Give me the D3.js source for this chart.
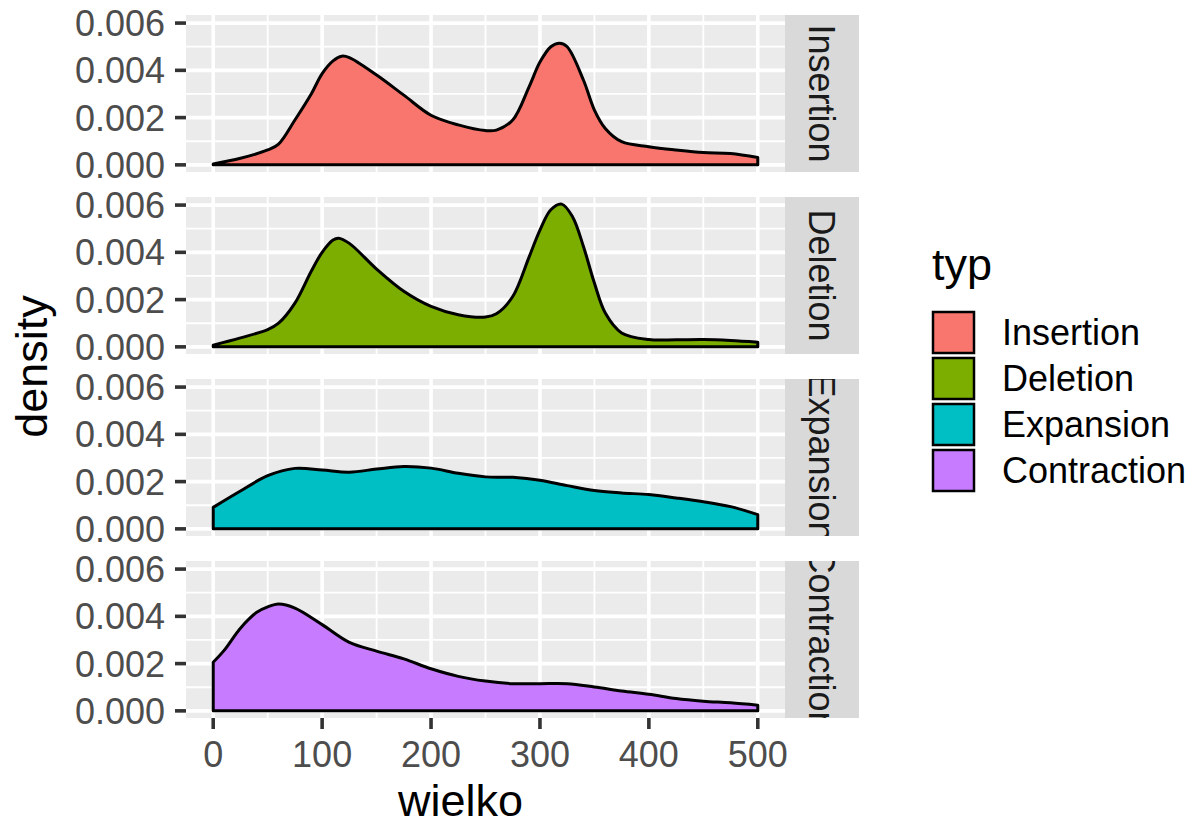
<!DOCTYPE html>
<html>
<head>
<meta charset="utf-8">
<script src="https://cdn.jsdelivr.net/npm/d3@7"></script>
<style>
  body { margin: 0; background: #fff; }
  text { font-family: "Liberation Sans", Arial, sans-serif; }
</style>
</head>
<body>
<div id="main"></div>
<script>
// facet order and fills (ggplot default hue palette)
var types = ['Insertion', 'Deletion', 'Expansion', 'Contraction'];
var fills = ['#F8766D', '#7CAE00', '#00BFC4', '#C77CFF'];

// density estimates, [wielko, density]
var insertion = [[0,0.00004],[25,0.00028],[50,0.00063],[60,0.00088],[75,0.0019],[90,0.0030],[100,0.00386],
  [110,0.0044],[118,0.0046],[125,0.00454],[150,0.0038],[175,0.00295],[200,0.0021],[225,0.00169],[250,0.00145],
  [260,0.00147],[275,0.0019],[290,0.0033],[300,0.00435],[310,0.0050],[318,0.00515],[325,0.0050],[340,0.00358],
  [350,0.00232],[360,0.00154],[375,0.00098],[400,0.00077],[425,0.00063],[450,0.00052],[475,0.00048],[500,0.00031]];
var deletion = [[0,0.00007],[25,0.00038],[50,0.00073],[60,0.0010],[75,0.00185],[90,0.0032],[100,0.0040],
  [110,0.00452],[115,0.0046],[125,0.00438],[150,0.00329],[175,0.00235],[200,0.00171],[225,0.00136],[250,0.00126],
  [260,0.0014],[275,0.00213],[290,0.0038],[300,0.00494],[310,0.0058],[320,0.00604],[330,0.0055],[340,0.00424],
  [350,0.0027],[360,0.00143],[375,0.00059],[400,0.00031],[425,0.0003],[450,0.00031],[475,0.00027],[500,0.0002]];
var expansion = [[0,0.00091],[25,0.0016],[50,0.00225],[75,0.00256],[100,0.00249],[125,0.0024],[150,0.00253],
  [175,0.00264],[200,0.00257],[225,0.00235],[250,0.0022],[275,0.00218],[300,0.00206],[325,0.00183],[350,0.00162],
  [375,0.00152],[400,0.00145],[425,0.00131],[450,0.00115],[475,0.00094],[500,0.0006]];
var contraction = [[0,0.00206],[10,0.00256],[25,0.0035],[40,0.00417],[50,0.0044],[60,0.00452],[75,0.00435],
  [100,0.00365],[125,0.0029],[150,0.00253],[175,0.0022],[200,0.00178],[225,0.00146],[250,0.00126],[275,0.00115],
  [300,0.00115],[325,0.00115],[350,0.00101],[375,0.00084],[400,0.0007],[425,0.00052],[450,0.00041],[475,0.00034],[500,0.00024]];

var xTicks = [0, 100, 200, 300, 400, 500];
var xMinor = [50, 150, 250, 350, 450];
var yTicks = [0, 0.002, 0.004, 0.006];
var yMinor = [0.001, 0.003, 0.005];

var series = [insertion, deletion, expansion, contraction];

var W = 1196, H = 826;
var panelLeft = 186, panelRight = 785, panelTop = 15, panelH = 157, panelStep = 182;
var stripW = 74;

var svg = d3.select('#main').append('svg').attr('width', W).attr('height', H);

var x = d3.scaleLinear().domain([-25, 525]).range([panelLeft, panelRight]);

var ymax = d3.max(series, function(s) { return d3.max(s, function(d) { return d[1]; }); });
var pad = ymax * 0.05;

var defs = svg.append('defs');

types.forEach(function(t, i) {
  var top = panelTop + i * panelStep;
  var y = d3.scaleLinear().domain([-pad, ymax + pad]).range([top + panelH, top]);
  var g = svg.append('g');

  g.append('rect').attr('x', panelLeft).attr('y', top)
    .attr('width', panelRight - panelLeft).attr('height', panelH).attr('fill', '#EBEBEB');

  // grid
  g.selectAll('.ymin').data(yMinor).enter().append('line')
    .attr('x1', panelLeft).attr('x2', panelRight)
    .attr('y1', function(d) { return y(d); }).attr('y2', function(d) { return y(d); })
    .attr('stroke', '#fff').attr('stroke-width', 1.8);
  g.selectAll('.xmin').data(xMinor).enter().append('line')
    .attr('y1', top).attr('y2', top + panelH)
    .attr('x1', function(d) { return x(d); }).attr('x2', function(d) { return x(d); })
    .attr('stroke', '#fff').attr('stroke-width', 1.8);
  g.selectAll('.ymaj').data(yTicks).enter().append('line')
    .attr('x1', panelLeft).attr('x2', panelRight)
    .attr('y1', function(d) { return y(d); }).attr('y2', function(d) { return y(d); })
    .attr('stroke', '#fff').attr('stroke-width', 3.6);
  g.selectAll('.xmaj').data(xTicks).enter().append('line')
    .attr('y1', top).attr('y2', top + panelH)
    .attr('x1', function(d) { return x(d); }).attr('x2', function(d) { return x(d); })
    .attr('stroke', '#fff').attr('stroke-width', 3.6);

  // density
  var area = d3.area()
    .x(function(d) { return x(d[0]); })
    .y0(y(0))
    .y1(function(d) { return y(d[1]); })
    .curve(d3.curveCatmullRom.alpha(0.5));
  g.append('path').datum(series[i]).attr('d', area)
    .attr('fill', fills[i]).attr('stroke', '#000').attr('stroke-width', 3)
    .attr('stroke-linejoin', 'round');

  // y axis
  var ya = g.append('g');
  ya.selectAll('line').data(yTicks).enter().append('line')
    .attr('x1', panelLeft - 11).attr('x2', panelLeft)
    .attr('y1', function(d) { return y(d); }).attr('y2', function(d) { return y(d); })
    .attr('stroke', '#333333').attr('stroke-width', 3.6);
  ya.selectAll('text').data(yTicks).enter().append('text')
    .attr('x', panelLeft - 21).attr('y', function(d) { return y(d); })
    .attr('dy', '0.36em').attr('text-anchor', 'end')
    .attr('font-size', 36).attr('fill', '#4D4D4D')
    .text(d3.format('.3f'));

  // strip
  defs.append('clipPath').attr('id', 'clip' + i).append('rect')
    .attr('x', panelRight).attr('y', top).attr('width', stripW).attr('height', panelH);
  g.append('rect').attr('x', panelRight).attr('y', top)
    .attr('width', stripW).attr('height', panelH).attr('fill', '#D9D9D9');
  g.append('g').attr('clip-path', 'url(#clip' + i + ')')
    .append('text')
    .attr('transform', 'translate(' + (panelRight + stripW / 2) + ',' + (top + panelH / 2) + ') rotate(90)')
    .attr('text-anchor', 'middle').attr('dy', '0.36em')
    .attr('font-size', 36).attr('fill', '#1A1A1A')
    .text(t);
});

// x axis
var bottom = panelTop + 3 * panelStep + panelH;
var xa = svg.append('g');
xa.selectAll('line').data(xTicks).enter().append('line')
  .attr('x1', function(d) { return x(d); }).attr('x2', function(d) { return x(d); })
  .attr('y1', bottom).attr('y2', bottom + 11)
  .attr('stroke', '#333333').attr('stroke-width', 3.6);
xa.selectAll('text').data(xTicks).enter().append('text')
  .attr('x', function(d) { return x(d); }).attr('y', 767)
  .attr('text-anchor', 'middle').attr('font-size', 36).attr('fill', '#4D4D4D')
  .text(function(d) { return d; });

// axis titles
svg.append('text').attr('x', 398).attr('y', 816)
  .attr('font-size', 45).attr('fill', '#000').text('wielko');
svg.append('text')
  .attr('transform', 'translate(47,' + ((panelTop + bottom) / 2) + ') rotate(-90)')
  .attr('text-anchor', 'middle').attr('font-size', 45).attr('fill', '#000').text('density');

// legend
var lg = svg.append('g').attr('transform', 'translate(932,0)');
lg.append('text').attr('x', 0).attr('y', 280).attr('font-size', 45).attr('fill', '#000').text('typ');
var items = lg.selectAll('.item').data(types).enter().append('g')
  .attr('transform', function(d, i) { return 'translate(0,' + (311 + i * 46) + ')'; });
items.append('rect').attr('x', 1).attr('y', 1).attr('width', 41).attr('height', 41)
  .attr('fill', function(d, i) { return fills[i]; })
  .attr('stroke', '#000').attr('stroke-width', 2.5);
items.append('text').attr('x', 70).attr('y', 21.5).attr('dy', '0.36em')
  .attr('font-size', 36).attr('fill', '#000').text(function(d) { return d; });
</script>
</body>
</html>
